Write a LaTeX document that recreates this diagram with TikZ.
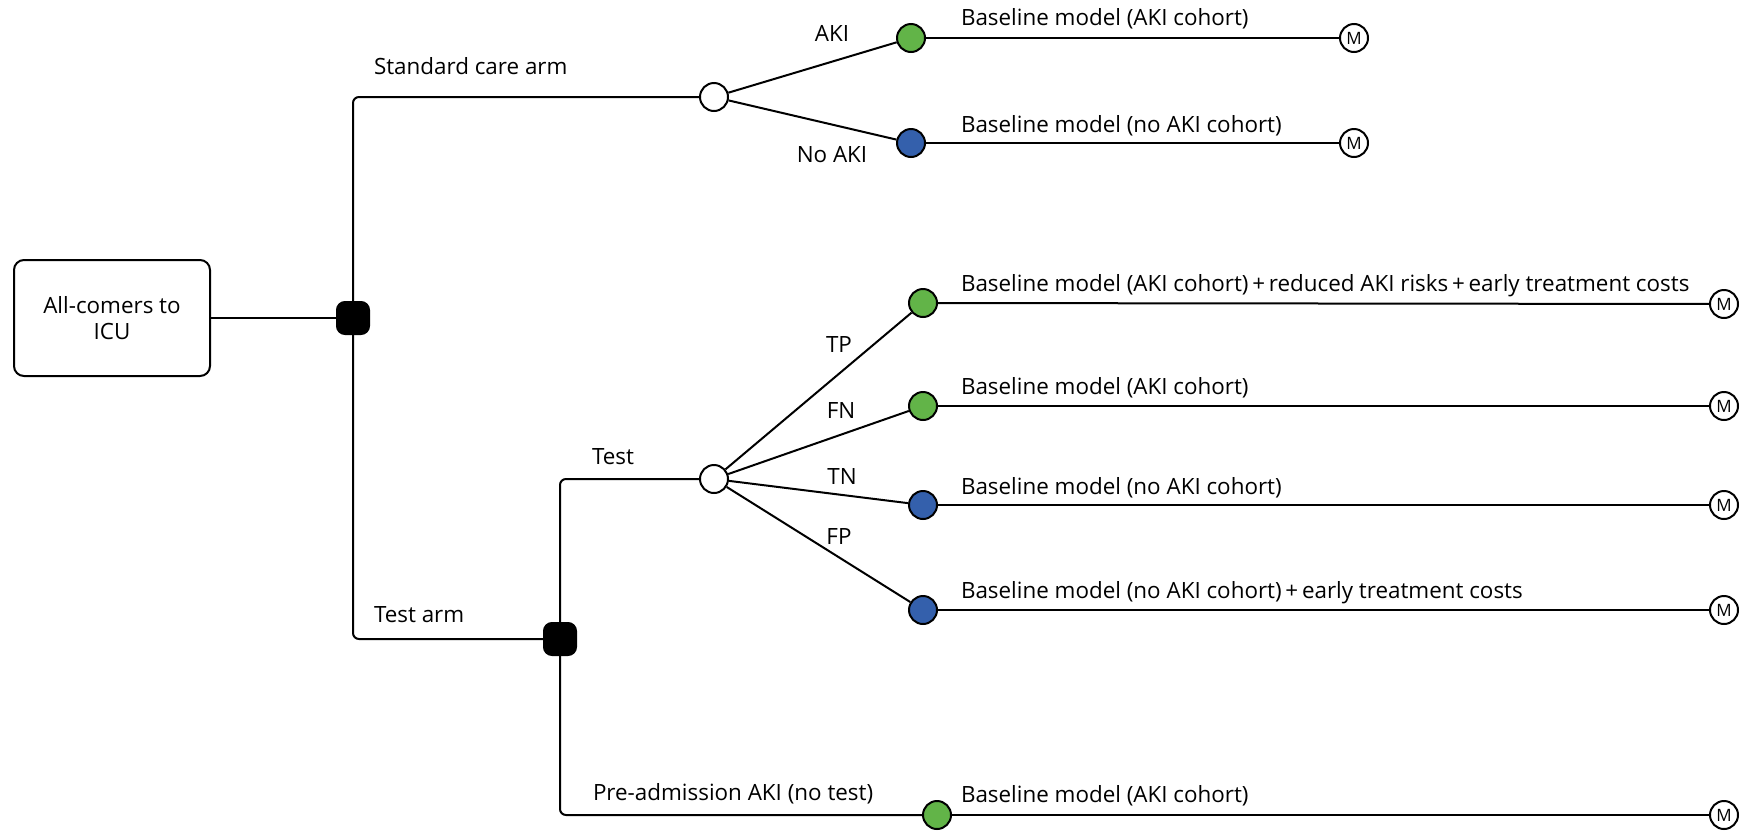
\documentclass[tikz,border=0pt]{standalone}
\usepackage{fontspec}
\setmainfont{Open Sans}
\definecolor{nodegreen}{RGB}{98,180,72}
\definecolor{nodeblue}{RGB}{52,96,172}
\begin{document}
\begin{tikzpicture}[x=0.5pt,y=-0.5pt,line width=1pt,
  every node/.style={font=\fontsize{11.2}{13.4}\selectfont},
  chance/.style={circle,draw,fill=white,minimum size=14pt,inner sep=0pt},
  gnode/.style={circle,draw,fill=nodegreen,minimum size=14pt,inner sep=0pt},
  bnode/.style={circle,draw,fill=nodeblue,minimum size=14pt,inner sep=0pt},
  mnode/.style={circle,draw,fill=white,minimum size=14pt,inner sep=0pt,font=\fontsize{8.5}{9}\selectfont},
  decision/.style={rectangle,fill=black,draw,minimum size=16pt,inner sep=0pt,rounded corners=4pt},
  lbl/.style={inner sep=1pt},
  elbow/.style={rounded corners=3pt}]
\useasboundingbox (0,0) rectangle (1747,831);
% nodes
\node[draw,rounded corners=5pt,minimum width=98pt,minimum height=58pt,align=center] (box) at (112,318) {All-comers to\\ICU};
\node[decision] (sq1) at (353,318) {};
\node[chance] (c1) at (714,97) {};
\node[gnode] (g1) at (911,38) {};
\node[bnode] (b1) at (911,143) {};
\node[mnode] (m1) at (1354,38) {M};
\node[mnode] (m2) at (1354,143) {M};
\node[decision] (sq2) at (560,639) {};
\node[chance] (c2) at (714,479) {};
\node[gnode] (tp) at (923,303) {};
\node[gnode] (fn) at (923,406) {};
\node[bnode] (tn) at (923,505) {};
\node[bnode] (fp) at (923,610) {};
\node[gnode] (pre) at (937,815) {};
\node[mnode] (mtp) at (1724,304) {M};
\node[mnode] (mfn) at (1724,406) {M};
\node[mnode] (mtn) at (1724,505) {M};
\node[mnode] (mfp) at (1724,610) {M};
\node[mnode] (mpre) at (1724,815) {M};
% connectors
\draw (box.east) -- (sq1.west);
\draw[elbow] (sq1.north) |- (c1.west);
\draw[elbow] (sq1.south) |- (sq2.west);
\draw[elbow] (sq2.north) |- (c2.west);
\draw[elbow] (sq2.south) |- (pre.west);
\draw (c1) -- (g1);
\draw (c1) -- (b1);
\draw (g1) -- (m1);
\draw (b1) -- (m2);
\draw (c2) -- (tp);
\draw (c2) -- (fn);
\draw (c2) -- (tn);
\draw (c2) -- (fp);
\draw (tp) -- (mtp);
\draw (fn) -- (mfn);
\draw (tn) -- (mtn);
\draw (fp) -- (mfp);
\draw (pre) -- (mpre);
% labels
\node[lbl,anchor=west] (lsc) at (371,66) {Standard care arm};
\node[lbl,anchor=west] (lta) at (371,615) {Test arm};
\node[lbl] (lt) at (613,457) {Test};
\node[lbl,anchor=west] (lpre) at (590,794) {Pre-admission AKI (no test)};
\node[lbl] (laki) at (832,33) {AKI};
\node[lbl] (lnoaki) at (832,155) {No AKI};
\node[lbl] (ltp) at (839,344) {TP};
\node[lbl] (lfn) at (841,410) {FN};
\node[lbl] (ltn) at (842,476) {TN};
\node[lbl] (lfp) at (839,536) {FP};
\node[lbl,anchor=west] (t1) at (958,19) {Baseline model (AKI cohort)};
\node[lbl,anchor=west] (t2) at (958,126) {Baseline model (no AKI cohort)};
\node[lbl,anchor=west] (t3) at (958,286) {Baseline model (AKI cohort)\,+\,reduced AKI risks\,+\,early treatment costs};
\node[lbl,anchor=west] (t4) at (958,388) {Baseline model (AKI cohort)};
\node[lbl,anchor=west] (t5) at (958,488) {Baseline model (no AKI cohort)};
\node[lbl,anchor=west] (t6) at (958,593) {Baseline model (no AKI cohort)\,+\,early treatment costs};
\node[lbl,anchor=west] (t7) at (958,796) {Baseline model (AKI cohort)};
\end{tikzpicture}
\end{document}
